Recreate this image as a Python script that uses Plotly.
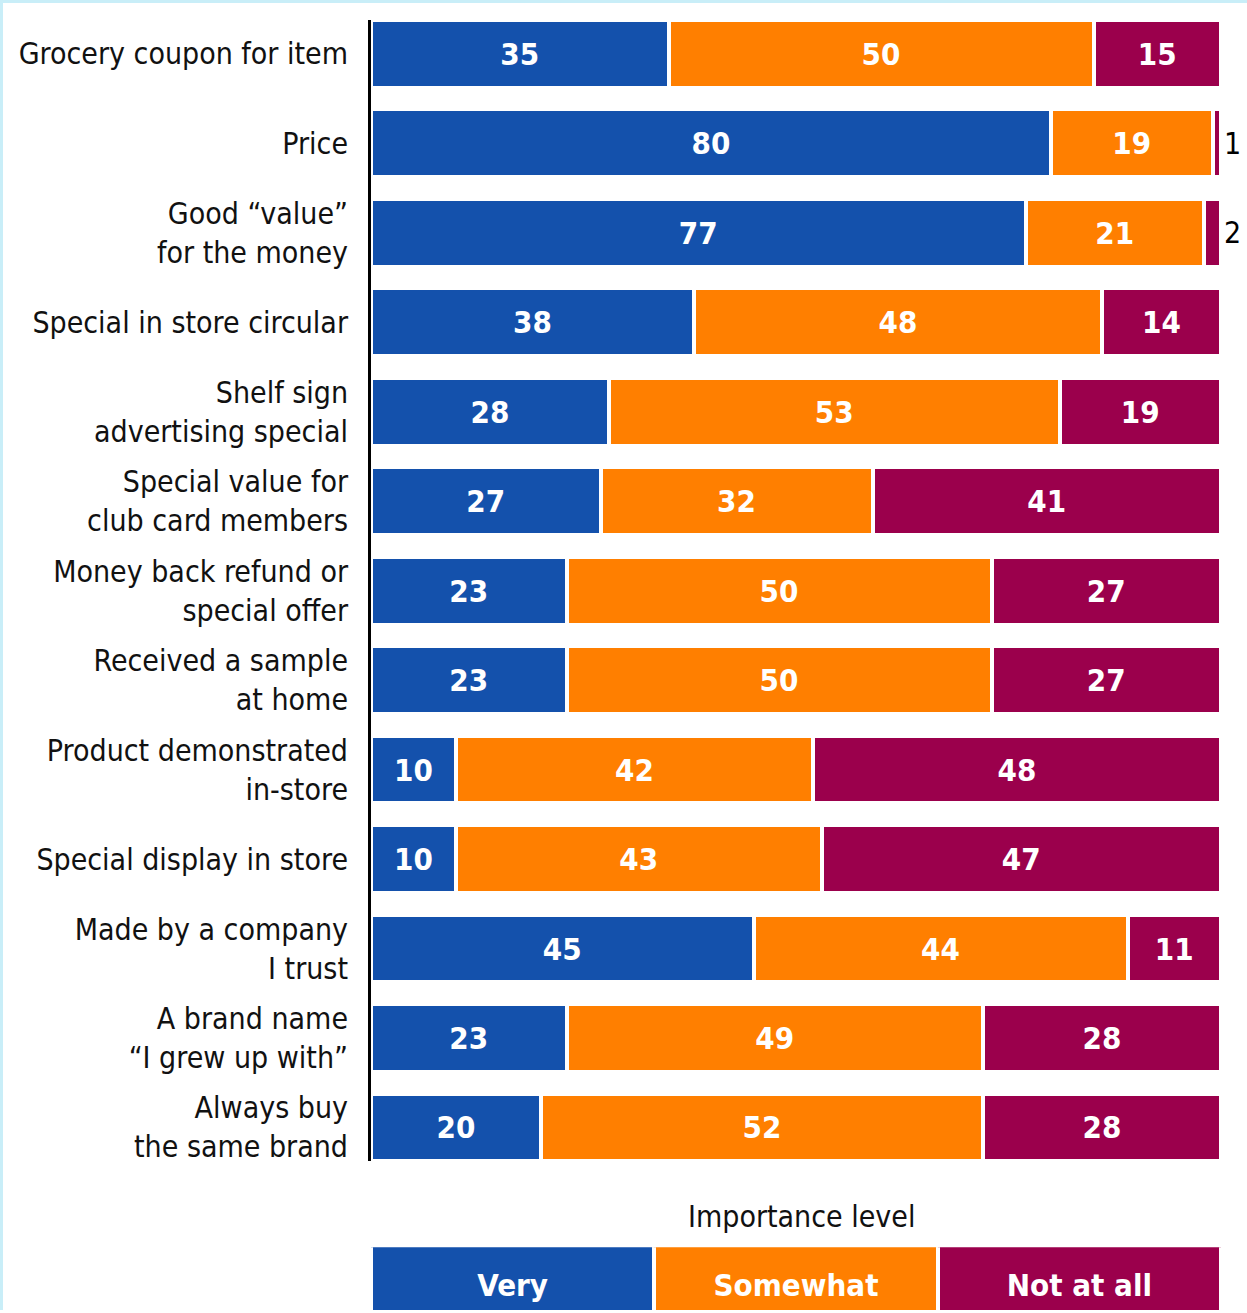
import plotly.graph_objects as go

categories = [
    "Grocery coupon for item",
    "Price",
    "Good “value”<br>for the money",
    "Special in store circular",
    "Shelf sign<br>advertising special",
    "Special value for<br>club card members",
    "Money back refund or<br>special offer",
    "Received a sample<br>at home",
    "Product demonstrated<br>in-store",
    "Special display in store",
    "Made by a company<br>I trust",
    "A brand name<br>“I grew up with”",
    "Always buy<br>the same brand",
]
very = [35, 80, 77, 38, 28, 27, 23, 23, 10, 10, 45, 23, 20]
somewhat = [50, 19, 21, 48, 53, 32, 50, 50, 42, 43, 44, 49, 52]
not_at_all = [15, 1, 2, 14, 19, 41, 27, 27, 48, 47, 11, 28, 28]
series_names = ["Very", "Somewhat", "Not at all"]
colors = ["#1451AC", "#FF7F00", "#9B004C"]
legend_title = "Importance level"

W, H = 1247, 1313
LABEL_FONT = "DejaVu Sans Condensed, Liberation Sans Narrow, Arial Narrow, sans-serif"
NUM_FONT = "Liberation Sans Narrow, DejaVu Sans Condensed, Arial Narrow, sans-serif"

fig = go.Figure()
for name, vals, col in zip(series_names, [very, somewhat, not_at_all], colors):
    pos = ["outside" if v < 5 else "inside" for v in vals]
    fig.add_trace(go.Bar(
        y=categories, x=vals, orientation="h", name=name,
        marker=dict(color=col, line=dict(color="white", width=4)),
        text=[str(v) for v in vals], textposition=pos,
        insidetextanchor="middle", constraintext="none",
        insidetextfont=dict(family=NUM_FONT, size=31, color="white", weight="bold"),
        outsidetextfont=dict(family=LABEL_FONT, size=30, color="black"),
        cliponaxis=False, showlegend=False, hoverinfo="skip",
        xaxis="x", yaxis="y",
    ))

# legend row built as a stacked bar on its own axes
for name, col in zip(series_names, colors):
    fig.add_trace(go.Bar(
        y=[0], x=[1], orientation="h", width=1.4,
        marker=dict(color=col, line=dict(color="white", width=4)),
        text=[name], textposition="inside", insidetextanchor="middle",
        constraintext="none",
        insidetextfont=dict(family=NUM_FONT, size=31, color="white", weight="bold"),
        showlegend=False, hoverinfo="skip", xaxis="x2", yaxis="y2",
    ))

half = 0.379
fig.update_layout(
    width=W, height=H,
    margin=dict(l=371, r=26, t=0, b=0),
    paper_bgcolor="white", plot_bgcolor="white",
    barmode="stack", bargap=1 - 2 * half,
    xaxis=dict(range=[0, 100], domain=[0, 1], visible=False, fixedrange=True),
    yaxis=dict(
        domain=[(H - 1164) / H, (H - 20) / H],
        range=[len(categories) - 1 + half, -half],
        showline=True, linecolor="black", linewidth=3,
        showgrid=False, zeroline=False, ticks="",
        ticklabelstandoff=14,
        tickfont=dict(family=LABEL_FONT, size=30, color="#111111"),
    ),
    xaxis2=dict(range=[0, 3], domain=[0, 1], anchor="y2", visible=False),
    yaxis2=dict(domain=[0, (H - 1250) / H], range=[-0.4, 0.6], anchor="x2",
                visible=False),
    annotations=[dict(
        text=legend_title, xref="paper", yref="paper", x=0.507,
        y=(H - 1219) / H, xanchor="center", yanchor="middle", showarrow=False,
        font=dict(family=LABEL_FONT, size=30, color="#111111"),
    )],
    shapes=[
        dict(type="rect", xref="paper", yref="paper",
             x0=-371 / 850, x1=(W - 371) / 850, y0=(H - 3) / H, y1=1,
             fillcolor="#C9EEF8", line=dict(width=0), layer="above"),
        dict(type="rect", xref="paper", yref="paper",
             x0=-371 / 850, x1=-368 / 850, y0=0, y1=1,
             fillcolor="#C9EEF8", line=dict(width=0), layer="above"),
    ],
)

fig.write_html("out.html")
